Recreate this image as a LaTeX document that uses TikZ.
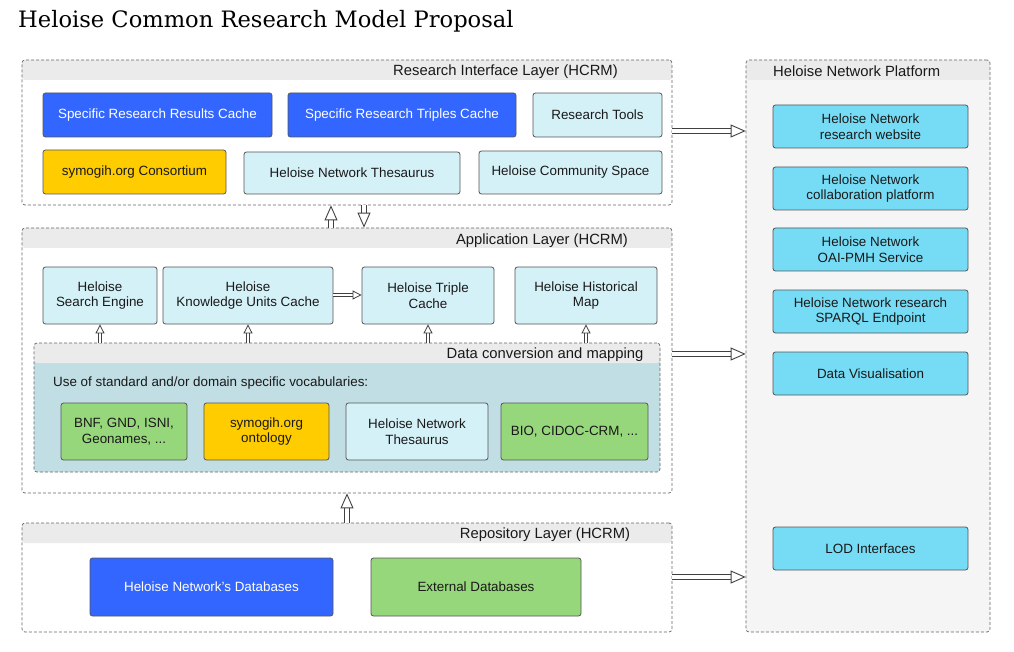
\documentclass[tikz,border=0pt]{standalone}
\usepackage{fontspec}
\setmainfont{Liberation Sans}
\newfontfamily\titlefont{DejaVu Serif}
\usetikzlibrary{arrows.meta,calc,positioning}

\definecolor{hblue}{HTML}{3366FF}
\definecolor{hcyan}{HTML}{D5F1F8}
\definecolor{hsky}{HTML}{76DCF5}
\definecolor{hyellow}{HTML}{FFCC00}
\definecolor{hgreen}{HTML}{97D77B}
\definecolor{hteal}{HTML}{C1DEE4}
\definecolor{hheader}{HTML}{EBEBEB}
\definecolor{hplatform}{HTML}{F5F5F5}
\definecolor{hline}{HTML}{555555}

\tikzset{
  box/.style={draw=hline, line width=0.8pt, rounded corners=2.5pt, align=center,
    inner sep=1pt, text=black!90, font=\fontsize{13.4}{15.5}\selectfont},
  bluebox/.style={box, fill=hblue, text=white},
  cyanbox/.style={box, fill=hcyan},
  skybox/.style={box, fill=hsky},
  yellowbox/.style={box, fill=hyellow},
  greenbox/.style={box, fill=hgreen},
  layer/.style={draw=black!60, line width=0.7pt, dash pattern=on 3pt off 2pt,
    rounded corners=3pt, fill=white,
    path picture={\fill[hheader] (path picture bounding box.north west)
      rectangle ([yshift=-20pt]path picture bounding box.north east);}},
  headtext/.style={font=\fontsize{14.8}{16}\selectfont, text=black!90, inner sep=0pt},
  blockarrow/.style={draw=black!75, line width=1pt, double, double distance=4pt,
    -{Triangle[open, length=15pt, width=13pt, line width=0.9pt]}},
  smallarrow/.style={draw=black!75, line width=1pt, double, double distance=2pt,
    -{Triangle[open, length=9pt, width=9pt, line width=0.8pt]}}
}

\begin{document}
\begin{tikzpicture}[x=1pt, y=-1pt]
  \useasboundingbox (0,0) rectangle (1014,652);
  \node[anchor=base west, inner sep=0pt, font=\titlefont\fontsize{22.6}{25}\selectfont]
    (title) at (18,28) {Heloise Common Research Model Proposal};

  % layers
  \node[layer, minimum width=650, minimum height=145] (ril) at (347,132.5) {};
  \node[layer, minimum width=650, minimum height=265] (app) at (347,360.5) {};
  \node[layer, minimum width=650, minimum height=109] (rep) at (347,577.5) {};
  \node[layer, fill=hplatform, minimum width=244, minimum height=572] (hnp) at (868,346) {};
  \node[headtext] (rilhead) at (505.5,71.5) {Research Interface Layer (HCRM)};
  \node[headtext] (apphead) at (542,240.5) {Application Layer (HCRM)};
  \node[headtext] (rephead) at (545,534.5) {Repository Layer (HCRM)};
  \node[headtext, anchor=west] (hnphead) at (773,71.5) {Heloise Network Platform};

  % research interface layer
  \node[bluebox, minimum width=229, minimum height=44] (srrc) at (157.5,115) {Specific Research Results Cache};
  \node[bluebox, minimum width=228, minimum height=44] (srtc) at (402,115) {Specific Research Triples Cache};
  \node[cyanbox, minimum width=129, minimum height=44] (rt) at (597.5,115) {Research Tools};
  \node[yellowbox, minimum width=183, minimum height=44] (soc) at (134.5,172) {symogih.org Consortium};
  \node[cyanbox, minimum width=216, minimum height=42] (hnt) at (352,173) {Heloise Network Thesaurus};
  \node[cyanbox, minimum width=183, minimum height=43] (hcs) at (570.5,172.5) {Heloise Community Space};

  % application layer
  \node[cyanbox, minimum width=114, minimum height=57] (hse) at (100,295.5) {Heloise\\Search Engine};
  \node[cyanbox, minimum width=170, minimum height=57] (kuc) at (248,295.5) {Heloise\\Knowledge Units Cache};
  \node[cyanbox, minimum width=132, minimum height=57] (htc) at (428,295.5) {Heloise Triple\\Cache};
  \node[cyanbox, minimum width=142, minimum height=57] (hhm) at (586,295.5) {Heloise Historical\\Map};
  \node[layer, fill=hteal, minimum width=626, minimum height=129] (dcm) at (347,407.5) {};
  \node[headtext] (dcmhead) at (545,354.5) {Data conversion and mapping};
  \node[headtext, font=\fontsize{13.4}{15.5}\selectfont, anchor=west] (vocab) at (53,383)
    {Use of standard and/or domain specific vocabularies:};
  \node[greenbox, minimum width=126, minimum height=57] (bnf) at (124,431.5) {BNF, GND, ISNI,\\Geonames, ...};
  \node[yellowbox, minimum width=125, minimum height=57] (sont) at (266.5,431.5) {symogih.org\\ontology};
  \node[cyanbox, minimum width=142, minimum height=57] (vhnt) at (417,431.5) {Heloise Network\\Thesaurus};
  \node[greenbox, minimum width=147, minimum height=57] (bio) at (574.5,431.5) {BIO, CIDOC-CRM, ...};

  % repository layer
  \node[bluebox, minimum width=243, minimum height=58] (hndb) at (211.5,587) {Heloise Network's Databases};
  \node[greenbox, minimum width=210, minimum height=58] (exdb) at (476,587) {External Databases};

  % platform
  \node[skybox, minimum width=195, minimum height=43] (web) at (870.5,126.5) {Heloise Network\\research website};
  \node[skybox, minimum width=195, minimum height=43] (collab) at (870.5,188.5) {Heloise Network\\collaboration platform};
  \node[skybox, minimum width=195, minimum height=43] (oai) at (870.5,249.5) {Heloise Network\\OAI-PMH Service};
  \node[skybox, minimum width=195, minimum height=43] (sparql) at (870.5,311.5) {Heloise Network research\\SPARQL Endpoint};
  \node[skybox, minimum width=195, minimum height=43] (viz) at (870.5,373.5) {Data Visualisation};
  \node[skybox, minimum width=195, minimum height=43] (lod) at (870.5,548.5) {LOD Interfaces};

  % arrows
  \coordinate (rilout) at ([yshift=1.5pt]ril.east);
  \coordinate (appout) at ([yshift=6.5pt]app.east);
  \coordinate (repout) at ([yshift=0.5pt]rep.east);
  \draw[blockarrow] (rilout) -- (rilout -| hnp.west);
  \draw[blockarrow] (appout) -- (appout -| hnp.west);
  \draw[blockarrow] (repout) -- (repout -| hnp.west);
  \draw[blockarrow] (rep.north) -- (app.south);
  \draw[blockarrow] ([xshift=-16pt]app.north) -- ([xshift=-16pt]ril.south);
  \draw[blockarrow] ([xshift=17pt]ril.south) -- ([xshift=17pt]app.north);
  \draw[smallarrow] ([yshift=0.5pt]kuc.east) -- ([yshift=0.5pt]htc.west);
  \foreach \n in {hse,kuc,htc,hhm}
    \draw[smallarrow] (dcm.north -| \n.south) -- (\n.south);
\end{tikzpicture}
\end{document}
